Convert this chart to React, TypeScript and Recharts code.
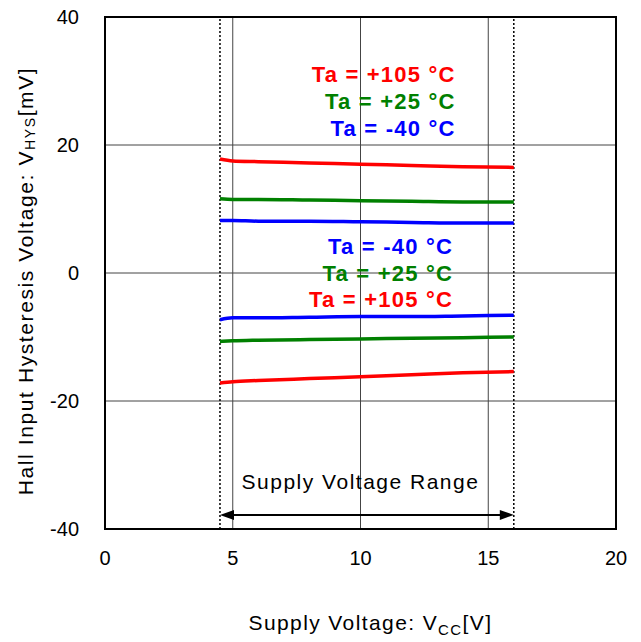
import React from 'react';
import {
  LineChart, Line, XAxis, YAxis, CartesianGrid, ReferenceLine, ReferenceDot, ReferenceArea,
} from 'recharts';

const vcc = [4.5, 5, 6, 8, 10, 12, 14, 16];
const hi105 = [17.8, 17.5, 17.4, 17.2, 17.0, 16.8, 16.6, 16.5];
const hi25 = [11.6, 11.5, 11.5, 11.4, 11.3, 11.2, 11.1, 11.1];
const hiM40 = [8.2, 8.2, 8.1, 8.1, 8.0, 7.9, 7.8, 7.8];
const loM40 = [-7.3, -7.0, -7.0, -6.9, -6.8, -6.8, -6.7, -6.6];
const lo25 = [-10.7, -10.6, -10.5, -10.4, -10.3, -10.2, -10.1, -10.0];
const lo105 = [-17.2, -17.0, -16.8, -16.5, -16.2, -15.9, -15.6, -15.4];

const xTicks = [0, 5, 10, 15, 20];
const yTicks = [-40, -20, 0, 20, 40];
const rangeMin = 4.5;
const rangeMax = 16;

const upperLabels = [
  { text: 'Ta = +105 °C', color: '#ff0000', x: 13.72, y: 31.0 },
  { text: 'Ta = +25 °C', color: '#008000', x: 13.72, y: 26.8 },
  { text: 'Ta = -40 °C', color: '#0000ff', x: 13.72, y: 22.6 },
];
const lowerLabels = [
  { text: 'Ta = -40 °C', color: '#0000ff', x: 13.62, y: 4.2 },
  { text: 'Ta = +25 °C', color: '#008000', x: 13.62, y: 0 },
  { text: 'Ta = +105 °C', color: '#ff0000', x: 13.62, y: -4.2 },
];

const data = vcc.map((v, i) => ({
  v,
  hi105: hi105[i], hi25: hi25[i], hiM40: hiM40[i],
  loM40: loM40[i], lo25: lo25[i], lo105: lo105[i],
}));

const series = [
  { key: 'hi105', color: '#ff0000' },
  { key: 'hi25', color: '#008000' },
  { key: 'hiM40', color: '#0000ff' },
  { key: 'loM40', color: '#0000ff' },
  { key: 'lo25', color: '#008000' },
  { key: 'lo105', color: '#ff0000' },
];

const FONT = 'Arial, "Liberation Sans", sans-serif';

const makeLabel = (text: string, color: string) => (props: any) => {
  const vb = props.viewBox || {};
  return (
    <text x={vb.x} y={vb.y} textAnchor="end" dominantBaseline="central"
      fill={color} fontFamily={FONT} fontWeight="bold" fontSize={22} letterSpacing={1.2}>
      {text}
    </text>
  );
};

const ArrowShape = (p: any) => {
  const { x1, y1, x2, y2 } = p;
  if (x1 == null) return null;
  const ah = 14;
  const aw = 5;
  return (
    <g>
      <line x1={x1 + 4} y1={y1} x2={x2 - 4} y2={y2} stroke="#000" strokeWidth={2} />
      <polygon points={`${x1},${y1} ${x1 + ah},${y1 - aw} ${x1 + ah},${y1 + aw}`} fill="#000" />
      <polygon points={`${x2},${y2} ${x2 - ah},${y2 - aw} ${x2 - ah},${y2 + aw}`} fill="#000" />
    </g>
  );
};

export default function App() {
  return (
    <div style={{ position: 'absolute', left: 0, top: 0, width: 641, height: 642, background: '#fff' }}>
      <LineChart width={641} height={642} data={data}
        margin={{ top: 17, right: 25, bottom: 0, left: 25 }}>
        <CartesianGrid stroke="#444" strokeWidth={1}
          horizontalValues={[-20, 0, 20]} verticalValues={[5, 10, 15]} />
        <XAxis dataKey="v" type="number" domain={[0, 20]} ticks={xTicks}
          height={113} tickLine={false} tickSize={0} tickMargin={22}
          axisLine={false}
          tick={{ fill: '#000', fontSize: 20, fontFamily: FONT }}
          label={(props: any) => {
            const vb = props.viewBox || {};
            const cx = vb.x + vb.width / 2 + 10;
            return (
              <text x={cx} y={630} textAnchor="middle" fill="#000" fontFamily={FONT} fontSize={21} letterSpacing={1.4}>
                Supply Voltage: V<tspan fontSize={15} dy={5}>CC</tspan><tspan dy={-5}>[V]</tspan>
              </text>
            );
          }}
        />
        <YAxis type="number" domain={[-40, 40]} ticks={yTicks} width={80}
          tickLine={false} tickSize={0} tickMargin={26} axisLine={false}
          tick={{ fill: '#000', fontSize: 20, fontFamily: FONT }}
          label={(props: any) => {
            const vb = props.viewBox || {};
            const cy = vb.y + vb.height / 2 + 8;
            const cx = 25;
            return (
              <text x={cx} y={cy} textAnchor="middle" dominantBaseline="central"
                transform={`rotate(-90 ${cx} ${cy})`} fill="#000" fontFamily={FONT} fontSize={21} letterSpacing={1.6}>
                Hall Input Hysteresis Voltage: V<tspan fontSize={14} dy={5}>HYS</tspan><tspan dy={-5}>[mV]</tspan>
              </text>
            );
          }}
        />
        <ReferenceArea x1={0} x2={20} y1={-40} y2={40} fill="none" stroke="#000" strokeWidth={2} fillOpacity={0} />
        <ReferenceLine x={rangeMin} stroke="#000" strokeWidth={1.5} strokeDasharray="2 2" />
        <ReferenceLine x={rangeMax} stroke="#000" strokeWidth={1.5} strokeDasharray="2 2" />
        <ReferenceLine segment={[{ x: rangeMin, y: -37.8 }, { x: rangeMax, y: -37.8 }]} shape={ArrowShape} />
        <ReferenceDot x={10} y={-32.6} r={0} fill="none" stroke="none"
          label={(props: any) => {
            const vb = props.viewBox || {};
            return (
              <text x={vb.x} y={vb.y} textAnchor="middle" dominantBaseline="central"
                fill="#000" fontFamily={FONT} fontSize={21} letterSpacing={1.5}>Supply Voltage Range</text>
            );
          }} />
        {series.map(s => (
          <Line key={s.key} dataKey={s.key} type="monotone" stroke={s.color} strokeWidth={3.5}
            dot={false} activeDot={false} isAnimationActive={false} />
        ))}
        {upperLabels.concat(lowerLabels).map((l, i) => (
          <ReferenceDot key={i} x={l.x} y={l.y} r={0} fill="none" stroke="none"
            label={makeLabel(l.text, l.color)} />
        ))}
      </LineChart>
    </div>
  );
}
